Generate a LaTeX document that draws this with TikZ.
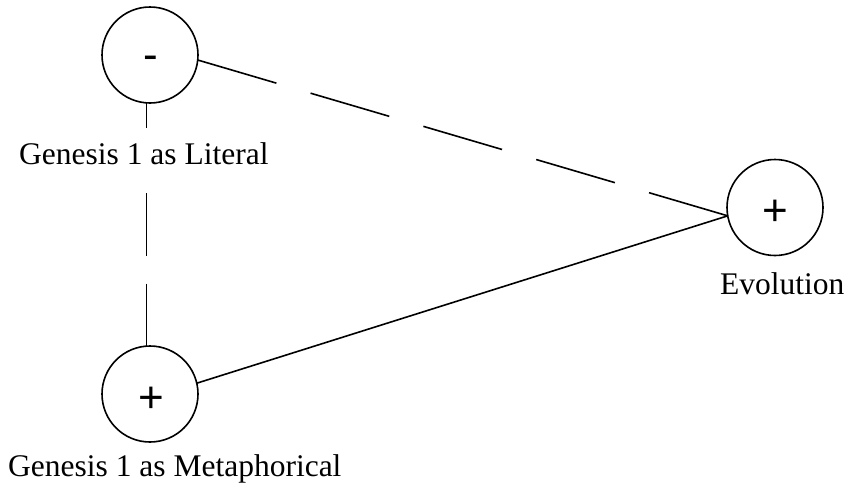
\documentclass[tikz,border=0pt]{standalone}
\usepackage{fontspec}
\setmainfont{Liberation Serif}
\newfontfamily\signfont{Liberation Sans}
\begin{document}
\begin{tikzpicture}[x=1pt,y=-1pt,
  stance/.style={circle,draw,line width=1.6pt,minimum size=96pt,inner sep=0pt,outer sep=0pt},
  sign/.style={font=\signfont\fontsize{44}{44}\selectfont,inner sep=0pt,anchor=base},
  caption/.style={font=\fontsize{31.5}{36}\selectfont,inner sep=0pt,anchor=base west},
  link/.style={line width=1.6pt},
  weak/.style={link,dash pattern=on 82pt off 35.6pt}]
\useasboundingbox (0,0) rectangle (848,485);

% the three positions
\node[stance] (lit) at (150,55) {};
\node[stance] (met) at (150,394) {};
\node[stance] (evo) at (775,207.5) {};

% their signs
\node[sign] (litsign) at (150.5,69.4) {-};
\node[sign] (metsign) at (151,412.4) {+};
\node[sign] (evosign) at (775,225.4) {+};

% relations between them
\draw[weak] (lit.-6) -- (evo.190);
\draw[link] (met.13) -- (evo.190);
\draw[link,dash pattern=on 62.4pt off 28pt] (lit.266) -- (met.94);

% captions (the upper one sits on a white patch over the dashed line)
\node[caption,fill=white,inner xsep=2pt,inner ysep=14pt] (litcap) at (17,164.3) {Genesis 1 as Literal};
\node[caption] (metcap) at (8,476) {Genesis 1 as Metaphorical};
\node[caption] (evocap) at (720,294) {Evolution};
\end{tikzpicture}
\end{document}
